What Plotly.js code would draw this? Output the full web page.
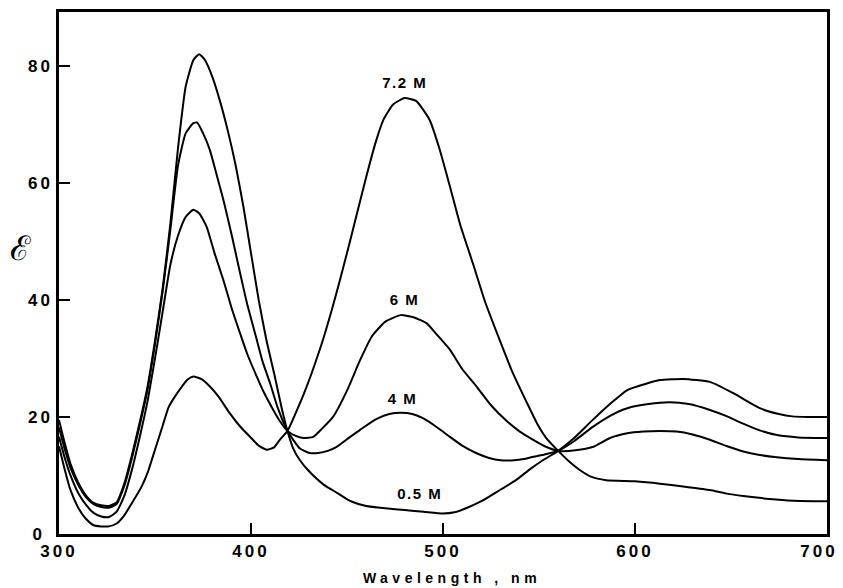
<!DOCTYPE html>
<html>
<head>
<meta charset="utf-8">
<script src="https://cdn.plot.ly/plotly-3.0.1.min.js"></script>
<style>
html,body{margin:0;padding:0;background:#fff;}
#chart{width:843px;height:588px;}
</style>
</head>
<body>
<div id="chart"></div>
<script>
// Wavelength (nm) and molar absorptivity for each concentration
const wl_05 = [300,303,306,310,314,318,322,326,330,334,338,342,346,350,354,358,362,366,370,373,376,380,384,388,392,396,400,404,408,412,416,419,422,425.5,430,438,445,452,460,470,480,490,500,506,512,520,530,538,545,552,560,568,578,588,596,605,613,625,639,651,665,675,682,690,700];
const eps_05 = [19.5,15.5,12,8.8,6.6,5.3,4.9,4.8,5.4,8.6,13.5,19,25,33,42,53,66,76.5,81,82,81,78,73.8,68.8,63,56,48,40,33.2,27.5,21.5,17.6,14.6,12.6,10.8,8.4,7,5.6,4.8,4.4,4.1,3.8,3.5,3.7,4.4,5.6,7.6,9.2,11,12.6,14.2,16.3,19.5,22.5,24.6,25.6,26.3,26.5,26,24.1,21.5,20.5,20.1,20,20];

const wl_4 = [300,303,306,310,314,318,322,326,330,334,338,342,346,350,354,358,362,366,370,372,375,378.6,382,385.6,390,394.3,398,403,406,409.9,414,419,425.5,430,434,440,444.6,450,456.8,465,472,478,484,490,497,503.6,510,517.5,524,530,537,542,547,553,560,568,578,587,596,607,618,628,639,648,656,665,674,685,700];
const eps_4 = [18.2,14.5,11.3,8.4,6.3,5.1,4.6,4.5,5.1,8.2,13,18.5,24.5,32.5,41.5,52,63,68.5,70.2,70.3,68.5,65.6,61.5,57.1,51,44.6,39.3,33.2,29.5,25.8,21.5,17.6,14.6,13.9,13.8,14.2,14.9,16.2,17.8,19.6,20.5,20.7,20.5,19.7,18.2,16.6,15.1,13.8,13,12.6,12.6,12.8,13.2,13.6,14.2,15.8,18.3,20.2,21.5,22.2,22.5,22.2,21.2,20.1,18.9,17.7,16.9,16.5,16.4];

const wl_6 = [300,303,306,310,314,318,322,326,330,334,338,342,346,350,354,358,362,366,370,373,376.9,381,385.6,390,394.3,398,403,407,411.6,415,419,423,427.2,432.4,437,442.9,450,456.8,463,470,478,485,491.5,497,503.6,510,517.5,525,533.2,540,547,553,560,569,578.3,587,596,604.3,613,621.7,630,639,648,656.4,665,673.8,685,700];
const eps_6 = [16.6,13,10,7,5,3.6,3,2.9,3.8,6.5,11,16.5,22.5,30,38,46,51,54.2,55.4,54.8,52.5,48,43.4,38.5,34.3,30.8,26.9,24,21.2,19.3,17.6,16.8,16.4,16.6,18,20.1,24.5,29.7,33.8,36.3,37.4,37,36,34,31.5,28.2,25.2,22,19.3,17.5,16.1,15,14.2,14.3,14.9,16.4,17.2,17.5,17.6,17.5,17,16.1,15,14.1,13.5,13.1,12.8,12.6];

const wl_72 = [300,303,306,310,314,318,322,326,330,334,338,343,346.5,350,354,357,360,364,367,370,374,378.6,383,389,394,399.5,404,408.2,412,415,419,424,429,433,437.7,442,446.4,451,455,460,465,469,474,480,486,493,498,503.6,509,515.8,522,529.7,536,543.6,549,554,560,566,571.4,577,585,600,613,625,639,647.8,656.4,670,682.4,700];
const eps_72 = [15,11,7.5,4.5,2.6,1.5,1.3,1.3,1.8,3.2,5.3,8.1,10.8,14.4,18.5,21.6,23.3,25.2,26.4,26.9,26.5,25.2,23.5,20.6,18.5,16.6,15.1,14.4,14.8,16.1,17.6,21.2,25.2,28.8,33.4,38.2,43.5,49.3,54.5,61,67,70.8,73.4,74.5,74,70.8,66,59.4,52.8,46,39.6,33,27.8,22.5,18.9,16.3,14.2,12.3,10.9,9.8,9.2,9,8.6,8.1,7.5,6.9,6.5,6,5.7,5.6];

const seriesNames = ["0.5 M","4 M","6 M","7.2 M"];
const xTicks = [300,400,500,600,700];
const yTicks = [0,20,40,60,80];
// label anchor positions (nm, epsilon)
const labelX = [488,479,480,480];
const labelY = [7.0,23.2,40.0,77.2];

const xs = [wl_05, wl_4, wl_6, wl_72];
const ys = [eps_05, eps_4, eps_6, eps_72];

const traces = xs.map((x,i)=>({
  x: x, y: ys[i], type:'scatter', mode:'lines', name: seriesNames[i],
  line:{color:'#000', width:2, shape:'spline', smoothing:0.5},
  hoverinfo:'skip'
}));

const FONT = 'Liberation Sans, Arial, sans-serif';
const annotations = seriesNames.map((n,i)=>({
  x: labelX[i], y: labelY[i], xref:'x', yref:'y', text: n, showarrow:false,
  font:{family:FONT, size:15, color:'#000'},
  xanchor:'center', yanchor:'middle'
}));
annotations.push({
  xref:'paper', yref:'paper', x: (20-59)/768, y: (534-248)/522, text:'ℰ', showarrow:false,
  font:{family:'DejaVu Serif, serif', size:34, color:'#000'}, xanchor:'center', yanchor:'middle'
});

const layout = {
  width:843, height:588,
  margin:{l:59, r:16, t:12, b:54},
  paper_bgcolor:'#fff', plot_bgcolor:'#fff',
  showlegend:false,
  xaxis:{
    range:[300,700], tickmode:'array', tickvals:xTicks, ticktext:xTicks.map(String),
    ticks:'inside', ticklen:11, tickwidth:1.5, tickcolor:'#000',
    showline:true, linecolor:'#000', linewidth:2.5, mirror:true,
    showgrid:false, zeroline:false,
    tickfont:{family:FONT, size:17, color:'#000'},
    title:{text:'Wavelength , nm', standoff:14, font:{family:FONT, size:14, color:'#000'}}
  },
  yaxis:{
    range:[0,89.2], tickmode:'array', tickvals:yTicks, ticktext:yTicks.map(String),
    ticks:'inside', ticklen:11, tickwidth:1.5, tickcolor:'#000',
    showline:true, linecolor:'#000', linewidth:2.5, mirror:true,
    showgrid:false, zeroline:false,
    tickfont:{family:FONT, size:17, color:'#000'}
  },
  annotations: annotations
};

const gd = document.getElementById('chart');
Plotly.newPlot(gd, traces, layout, {displayModeBar:false}).then(()=>{
  document.querySelectorAll('.xtick text, .ytick text').forEach(el=>{
    el.style.fontWeight='bold'; el.style.letterSpacing='3px';
  });
  const xt = document.querySelectorAll('.xtick text');
  if (xt.length) { xt[xt.length-1].setAttribute('dx','-8'); }
  document.querySelectorAll('.ytick text').forEach(el=>{ if (el.textContent.trim()==='0') el.setAttribute('dx','-8'); });
  document.querySelectorAll('.xtitle').forEach(el=>{
    el.style.fontWeight='bold'; el.style.letterSpacing='4.5px'; el.setAttribute('dx','9');
  });
  document.querySelectorAll('.annotation-text').forEach(el=>{
    if(el.textContent.indexOf('M')>=0){ el.style.fontWeight='bold'; el.style.letterSpacing='1.5px'; }
  });

  // Inside tick marks, positioned with the axes' own scales, drawn on top
  try {
    const fl = gd._fullLayout, xa = fl.xaxis, ya = fl.yaxis;
    const svg = document.querySelector('.main-svg');
    const ns = 'http://www.w3.org/2000/svg';
    const g = document.createElementNS(ns, 'g');
    g.setAttribute('class', 'manual-ticks');
    const TL = 11;
    const addLine = (x1,y1,x2,y2)=>{
      const l = document.createElementNS(ns, 'line');
      l.setAttribute('x1', x1); l.setAttribute('y1', y1);
      l.setAttribute('x2', x2); l.setAttribute('y2', y2);
      l.setAttribute('stroke', '#000'); l.setAttribute('stroke-width', '1.5');
      g.appendChild(l);
    };
    const yBottom = ya._offset + ya._length;
    xTicks.slice(1,-1).forEach(v=>{
      const px = xa._offset + xa.l2p(v);
      addLine(px, yBottom, px, yBottom - TL);
    });
    yTicks.slice(1).forEach(v=>{
      const py = ya._offset + ya.l2p(v);
      addLine(xa._offset, py, xa._offset + TL, py);
    });
    svg.appendChild(g);
  } catch(e) {}
});
</script>
</body>
</html>
